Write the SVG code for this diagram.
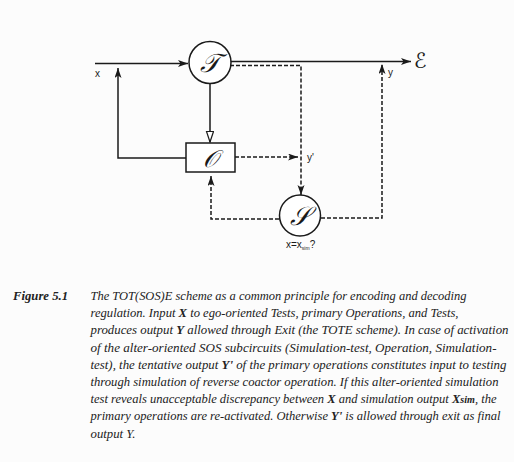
<svg xmlns="http://www.w3.org/2000/svg" width="514" height="462" viewBox="0 0 514 462">
<style>
.ln{fill:none;stroke:#1a1a1a;stroke-width:1.5}
.ds{fill:none;stroke:#1a1a1a;stroke-width:1.5;stroke-dasharray:4 2}
.nd{fill:#fff;stroke:#1a1a1a;stroke-width:1.5}
.scr{font-family:"DejaVu Serif","DejaVu Sans",serif;font-style:italic;fill:#1a1a1a;text-anchor:middle}
.lb{font-family:"Liberation Sans",Arial,sans-serif;fill:#1a1a1a;font-size:10px}
.cap{font-family:"Liberation Serif","Times New Roman",serif;font-style:italic;font-size:12.4px;fill:#222}
.b{font-weight:bold}
</style>
<defs>
<marker id="ah" markerUnits="userSpaceOnUse" markerWidth="11" markerHeight="8" refX="10" refY="3.5" orient="auto">
<path d="M0,0 L10,3.5 L0,7 L2.5,3.5 z" fill="#1a1a1a"/>
</marker>
<marker id="oh" markerUnits="userSpaceOnUse" markerWidth="13" markerHeight="10" refX="11" refY="4" orient="auto">
<path d="M0.5,0.5 L11,4 L0.5,7.5 z" fill="#fff" stroke="#1a1a1a" stroke-width="1.2"/>
</marker>
</defs>
<rect width="514" height="462" fill="#fcfcfc"/>
<g id="connectors">
<path class="ln" d="M95,63.5 L188,63.5" marker-end="url(#ah)"/>
<path class="ln" d="M210,84 L210,142" marker-end="url(#oh)"/>
<path class="ln" d="M186,158 L118,158 L118,68" marker-end="url(#ah)"/>
<path class="ln" d="M230,61.5 L411,61.5" marker-end="url(#ah)"/>
<path class="ds" d="M230,65.5 L301,65.5 L301,195" marker-end="url(#ah)"/>
<path class="ds" d="M235,157 L298,157" marker-end="url(#ah)"/>
<path class="ds" d="M279,219 L211,219 L211,176" marker-end="url(#ah)"/>
<path class="ds" d="M321,218 L382,218 L382,64" marker-end="url(#ah)"/>
</g>
<g id="node-T">
<circle class="nd" cx="210" cy="62.5" r="21"/>
<text class="scr" x="210" y="72" font-size="26">𝒯</text>
</g>
<g id="node-O">
<rect class="nd" x="186" y="143" width="49" height="29"/>
<text class="scr" x="210" y="167" font-size="24">𝒪</text>
</g>
<g id="node-S">
<circle class="nd" cx="300" cy="215.5" r="20.5"/>
<text class="scr" x="300" y="225" font-size="26">𝒮</text>
</g>
<g id="node-E">
<text class="scr" x="420" y="68" font-size="21">ℰ</text>
</g>
<g id="labels">
<text class="lb" x="95" y="77">x</text>
<text class="lb" x="388" y="76">y</text>
<text class="lb" x="307" y="161">y'</text>
<text class="lb" x="286" y="248">x=x<tspan font-size="5" dy="1.5">sim</tspan><tspan dy="-1.5">?</tspan></text>
</g>
<g id="caption">
<text class="cap b" x="13" y="300" textLength="55" lengthAdjust="spacingAndGlyphs">Figure 5.1</text>
<text class="cap" x="90.5" y="300" textLength="376" lengthAdjust="spacingAndGlyphs">The TOT(SOS)E scheme as a common principle for encoding and decoding</text>
<text class="cap" x="90.5" y="317.2" textLength="368" lengthAdjust="spacingAndGlyphs">regulation. Input <tspan class="b">X</tspan> to ego-oriented Tests, primary Operations, and Tests,</text>
<text class="cap" x="90.5" y="334.4" textLength="418" lengthAdjust="spacingAndGlyphs">produces output <tspan class="b">Y</tspan> allowed through Exit (the TOTE scheme). In case of activation</text>
<text class="cap" x="90.5" y="351.6" textLength="406" lengthAdjust="spacingAndGlyphs">of the alter-oriented SOS subcircuits (Simulation-test, Operation, Simulation-</text>
<text class="cap" x="90.5" y="368.8" textLength="416" lengthAdjust="spacingAndGlyphs">test), the tentative output <tspan class="b">Y'</tspan> of the primary operations constitutes input to testing</text>
<text class="cap" x="90.5" y="386" textLength="408" lengthAdjust="spacingAndGlyphs">through simulation of reverse coactor operation. If this alter-oriented simulation</text>
<text class="cap" x="90.5" y="403.2" textLength="406" lengthAdjust="spacingAndGlyphs">test reveals unacceptable discrepancy between <tspan class="b">X</tspan> and simulation output <tspan class="b">X</tspan><tspan class="b" font-size="10">sim</tspan>, the</text>
<text class="cap" x="90.5" y="420.4" textLength="410" lengthAdjust="spacingAndGlyphs">primary operations are re-activated. Otherwise <tspan class="b">Y'</tspan> is allowed through exit as final</text>
<text class="cap" x="90.5" y="437.6" textLength="45" lengthAdjust="spacingAndGlyphs">output Y.</text>
</g>
</svg>
